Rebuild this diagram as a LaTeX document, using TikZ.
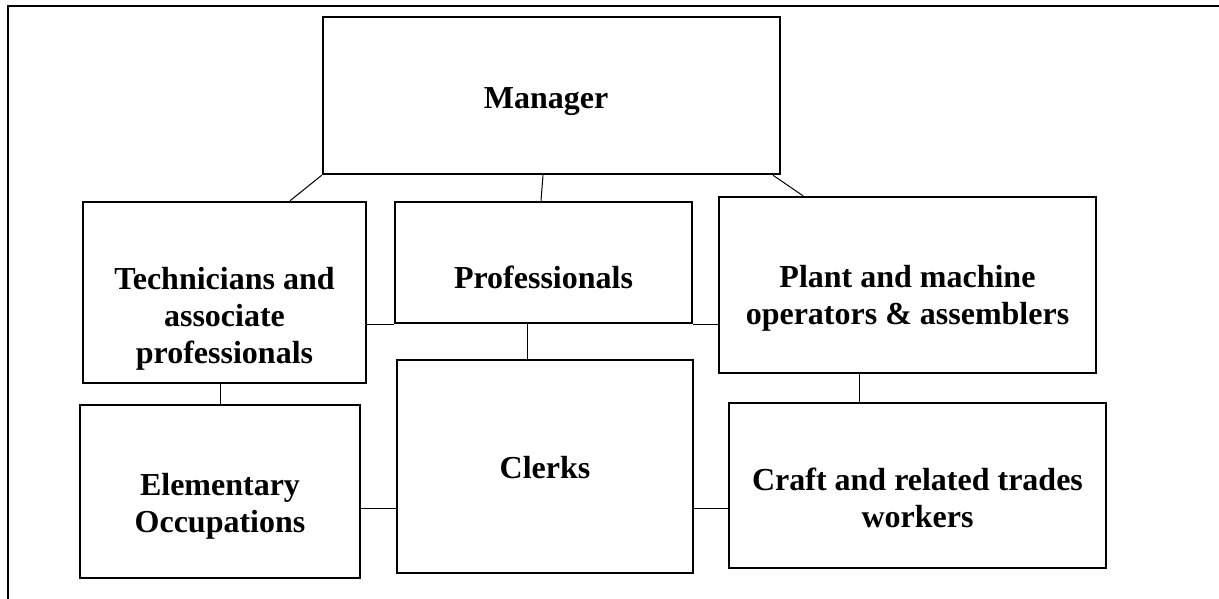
\documentclass[tikz,border=0pt]{standalone}
\usepackage{fontspec}
\setmainfont{Liberation Serif}
\usetikzlibrary{calc}
\begin{document}
\begin{tikzpicture}[x=1pt,y=-1pt,
  box/.style={draw, line width=2.5pt, inner sep=0pt},
  lbl/.style={font=\fontsize{32}{37}\selectfont\bfseries, align=center, anchor=base, inner sep=0pt},
  conn/.style={line width=1pt},
  frame/.style={line width=2.5pt}]
\useasboundingbox (0,0) rectangle (1219,599);
% outer frame (top and left edges)
\coordinate (ftl) at (8,6);
\coordinate (ftr) at (1219,6);
\coordinate (fbl) at (8,599);
\draw[frame] (ftr) -- (ftl) -- (fbl);
% boxes
\node[box, minimum width=457, minimum height=157] (manager) at (551.5,95.5) {};
\node[box, minimum width=283, minimum height=181] (tech) at (224.5,292.5) {};
\node[box, minimum width=297, minimum height=121] (prof) at (543.5,262.5) {};
\node[box, minimum width=377, minimum height=176] (plant) at (907.5,285) {};
\node[box, minimum width=280, minimum height=173] (elem) at (220,491.5) {};
\node[box, minimum width=296, minimum height=213] (clerks) at (545,466.5) {};
\node[box, minimum width=377, minimum height=165] (craft) at (917.5,485.5) {};
% labels (anchor = baseline of last line)
\node[lbl] (managert) at (546,109) {Manager};
\node[lbl] (techt) at (224.5,363) {Technicians and\\associate\\professionals};
\node[lbl] (proft) at (543.5,288) {Professionals};
\node[lbl] (plantt) at (907.5,324) {Plant and machine\\operators \& assemblers};
\node[lbl] (elemt) at (220,532) {Elementary\\Occupations};
\node[lbl] (clerkst) at (545,478) {Clerks};
\node[lbl] (craftt) at (917.5,527) {Craft and related trades\\workers};
% connectors
\draw[conn] (manager.south west) -- ([xshift=65.5pt]tech.north);
\draw[conn] ([xshift=-8.5pt]manager.south) -- ([xshift=-2.5pt]prof.north);
\draw[conn] ([xshift=221.5pt]manager.south) -- ([xshift=-104.5pt]plant.north);
\draw[conn] (prof.south west) -- (prof.south west -| tech.east);
\draw[conn] (prof.south east) -- (prof.south east -| plant.west);
\draw[conn] ([xshift=-16.5pt]prof.south) -- ([xshift=-16.5pt]prof.south |- clerks.north);
\draw[conn] (elem.north) -- (elem.north |- tech.south);
\draw[conn] ([yshift=-16.5pt]elem.east) -- ([yshift=-16.5pt]elem.east -| clerks.west);
\draw[conn] ([yshift=-41.5pt]clerks.east) -- ([yshift=-41.5pt]clerks.east -| craft.west);
\draw[conn] ([xshift=-48.5pt]plant.south) -- ([xshift=-48.5pt]plant.south |- craft.north);
\end{tikzpicture}
\end{document}
